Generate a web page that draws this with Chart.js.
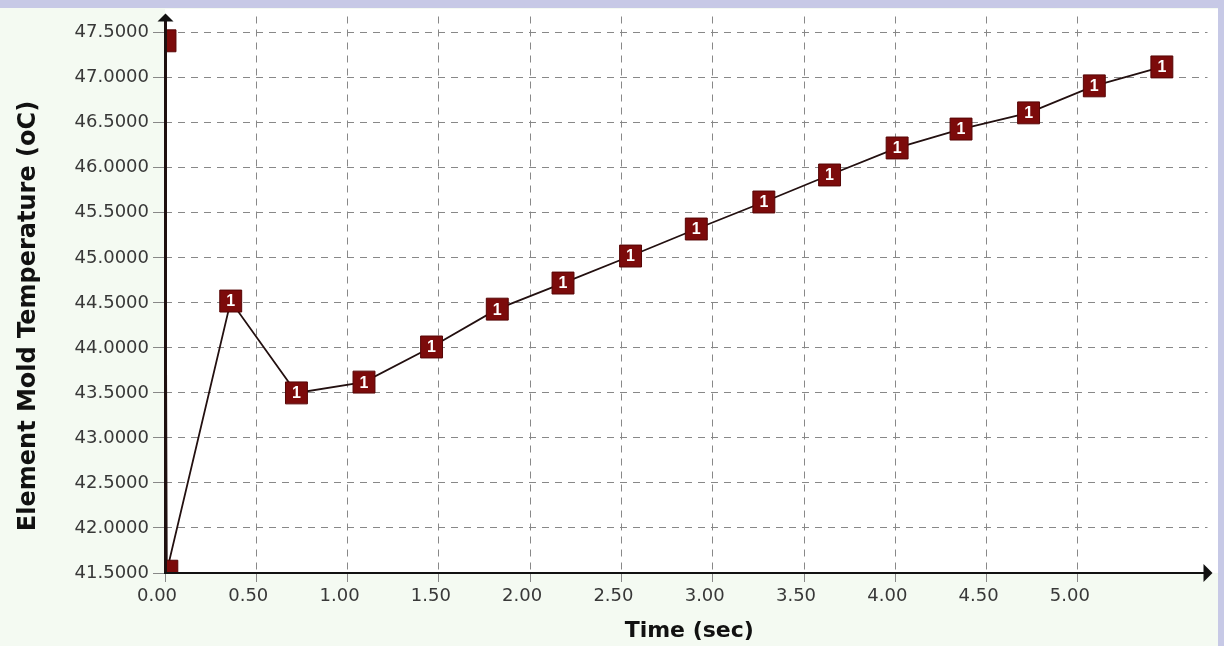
<!DOCTYPE html>
<html>
<head>
<meta charset="utf-8">
<title>Element Mold Temperature</title>
<script src="https://cdn.jsdelivr.net/npm/chart.js@4.4.1/dist/chart.umd.min.js"></script>
<style>
  html, body { margin: 0; padding: 0; background: #f4faf2; }
  canvas { display: block; }
</style>
</head>
<body>
<canvas id="chart" width="1224" height="646"></canvas>
<script>
// Sample times (sec) and the element mold temperature (oC) at each sample
const timeSec = [0.00, 0.01, 0.36, 0.72, 1.09, 1.46, 1.82, 2.18, 2.55, 2.91, 3.28, 3.64, 4.01, 4.36, 4.73, 5.09, 5.46];
const moldTemp = [47.41, 41.52, 44.52, 43.50, 43.62, 44.01, 44.43, 44.72, 45.02, 45.32, 45.62, 45.92, 46.22, 46.43, 46.61, 46.91, 47.12];
const seriesTag = '1';

// Axis tick values
const xTickValues = [0.0, 0.5, 1.0, 1.5, 2.0, 2.5, 3.0, 3.5, 4.0, 4.5, 5.0];
const yTickValues = [41.5, 42.0, 42.5, 43.0, 43.5, 44.0, 44.5, 45.0, 45.5, 46.0, 46.5, 47.0, 47.5];

const xTitle = 'Time (sec)';
const yTitle = 'Element Mold Temperature (oC)';

const tickFont = { family: '"DejaVu Sans", sans-serif', size: 18 };
const tickColor = '#383838';
const gridColor = '#888888';

// Page backdrop, white plot panel, marker tags, arrowed axes and axis titles
const framePlugin = {
  id: 'frame',
  beforeDraw(chart) {
    const { ctx, chartArea: a } = chart;
    ctx.save();
    ctx.fillStyle = '#f4faf2';
    ctx.fillRect(0, 0, chart.width, chart.height);
    ctx.fillStyle = '#ffffff';
    ctx.fillRect(a.left, 9, 1218 - a.left, a.bottom - 9);
    ctx.fillStyle = '#c7c9e6';
    ctx.fillRect(0, 0, chart.width, 8);
    ctx.fillRect(1218, 0, chart.width - 1218, chart.height);
    ctx.restore();
  },
  afterDatasetsDraw(chart) {
    const { ctx, chartArea: a } = chart;
    const meta = chart.getDatasetMeta(0);

    // series tag inside each marker that sits clear of the vertical axis
    ctx.save();
    ctx.beginPath();
    ctx.rect(a.left, a.top, a.right - a.left, a.bottom - a.top);
    ctx.clip();
    ctx.fillStyle = '#ffffff';
    ctx.font = 'bold 16px "Liberation Sans", Arial, sans-serif';
    ctx.textAlign = 'center';
    ctx.textBaseline = 'middle';
    meta.data.forEach(pt => {
      if (pt.x > a.left + 6) ctx.fillText(seriesTag, pt.x, pt.y + 1);
    });
    ctx.restore();

    // axes with arrow heads
    ctx.save();
    ctx.strokeStyle = '#1e1010';
    ctx.fillStyle = '#111111';
    ctx.lineWidth = 3;
    ctx.beginPath();
    ctx.moveTo(a.left + 0.5, a.bottom);
    ctx.lineTo(a.left + 0.5, a.top - 1);
    ctx.stroke();
    ctx.strokeStyle = '#111111';
    ctx.lineWidth = 2;
    ctx.beginPath();
    ctx.moveTo(a.left - 1, a.bottom);
    ctx.lineTo(a.right, a.bottom);
    ctx.stroke();
    ctx.beginPath();
    ctx.moveTo(a.left + 0.5, a.top - 3);
    ctx.lineTo(a.left - 7.5, a.top + 5);
    ctx.lineTo(a.left + 8.5, a.top + 5);
    ctx.closePath();
    ctx.fill();
    ctx.beginPath();
    ctx.moveTo(a.right + 5, a.bottom);
    ctx.lineTo(a.right - 4, a.bottom - 9);
    ctx.lineTo(a.right - 4, a.bottom + 9);
    ctx.closePath();
    ctx.fill();
    ctx.restore();

    // axis titles
    ctx.save();
    ctx.fillStyle = '#111111';
    ctx.textAlign = 'center';
    ctx.textBaseline = 'alphabetic';
    ctx.font = 'bold 22px "DejaVu Sans", sans-serif';
    ctx.fillText(xTitle, (a.left + a.right) / 2 + 3, 637);
    ctx.font = 'bold 24px "DejaVu Sans", sans-serif';
    ctx.translate(35, 316);
    ctx.rotate(-Math.PI / 2);
    ctx.fillText(yTitle, 0, 0);
    ctx.restore();
  }
};

new Chart(document.getElementById('chart'), {
  type: 'line',
  data: {
    datasets: [{
      data: timeSec.map((t, i) => ({ x: t, y: moldTemp[i] })),
      borderColor: '#231010',
      borderWidth: 1.8,
      tension: 0,
      pointStyle: 'rect',
      pointRadius: 15.5,
      pointHoverRadius: 15.5,
      pointBackgroundColor: '#7c0b0b',
      pointBorderColor: '#560505',
      pointBorderWidth: 1,
      clip: 0
    }]
  },
  options: {
    responsive: false,
    animation: false,
    devicePixelRatio: 1,
    layout: { padding: { top: 14, right: 11, left: 0, bottom: 0 } },
    plugins: { legend: { display: false }, tooltip: { enabled: false } },
    scales: {
      x: {
        type: 'linear',
        min: 0,
        max: 5.71,
        afterBuildTicks: s => { s.ticks = xTickValues.map(v => ({ value: v })); },
        afterFit: s => { s.height = 73; },
        ticks: {
          font: tickFont,
          color: tickColor,
          padding: 4,
          labelOffset: -8,
          maxRotation: 0,
          autoSkip: false,
          callback: v => Number(v).toFixed(2)
        },
        grid: {
          color: gridColor,
          lineWidth: 1,
          drawTicks: true,
          tickLength: 9,
          tickColor: gridColor,
          tickBorderDash: []
        },
        border: { display: false, dash: [7, 6] }
      },
      y: {
        type: 'linear',
        min: 41.5,
        max: 47.68,
        afterBuildTicks: s => { s.ticks = yTickValues.map(v => ({ value: v })); },
        afterFit: s => { s.width = 165; },
        ticks: {
          font: tickFont,
          color: tickColor,
          padding: 4,
          autoSkip: false,
          callback: v => Number(v).toFixed(4)
        },
        grid: {
          color: gridColor,
          lineWidth: 1,
          drawTicks: true,
          tickLength: 12,
          tickColor: gridColor,
          tickBorderDash: []
        },
        border: { display: false, dash: [7, 6] }
      }
    }
  },
  plugins: [framePlugin]
});
</script>
</body>
</html>
